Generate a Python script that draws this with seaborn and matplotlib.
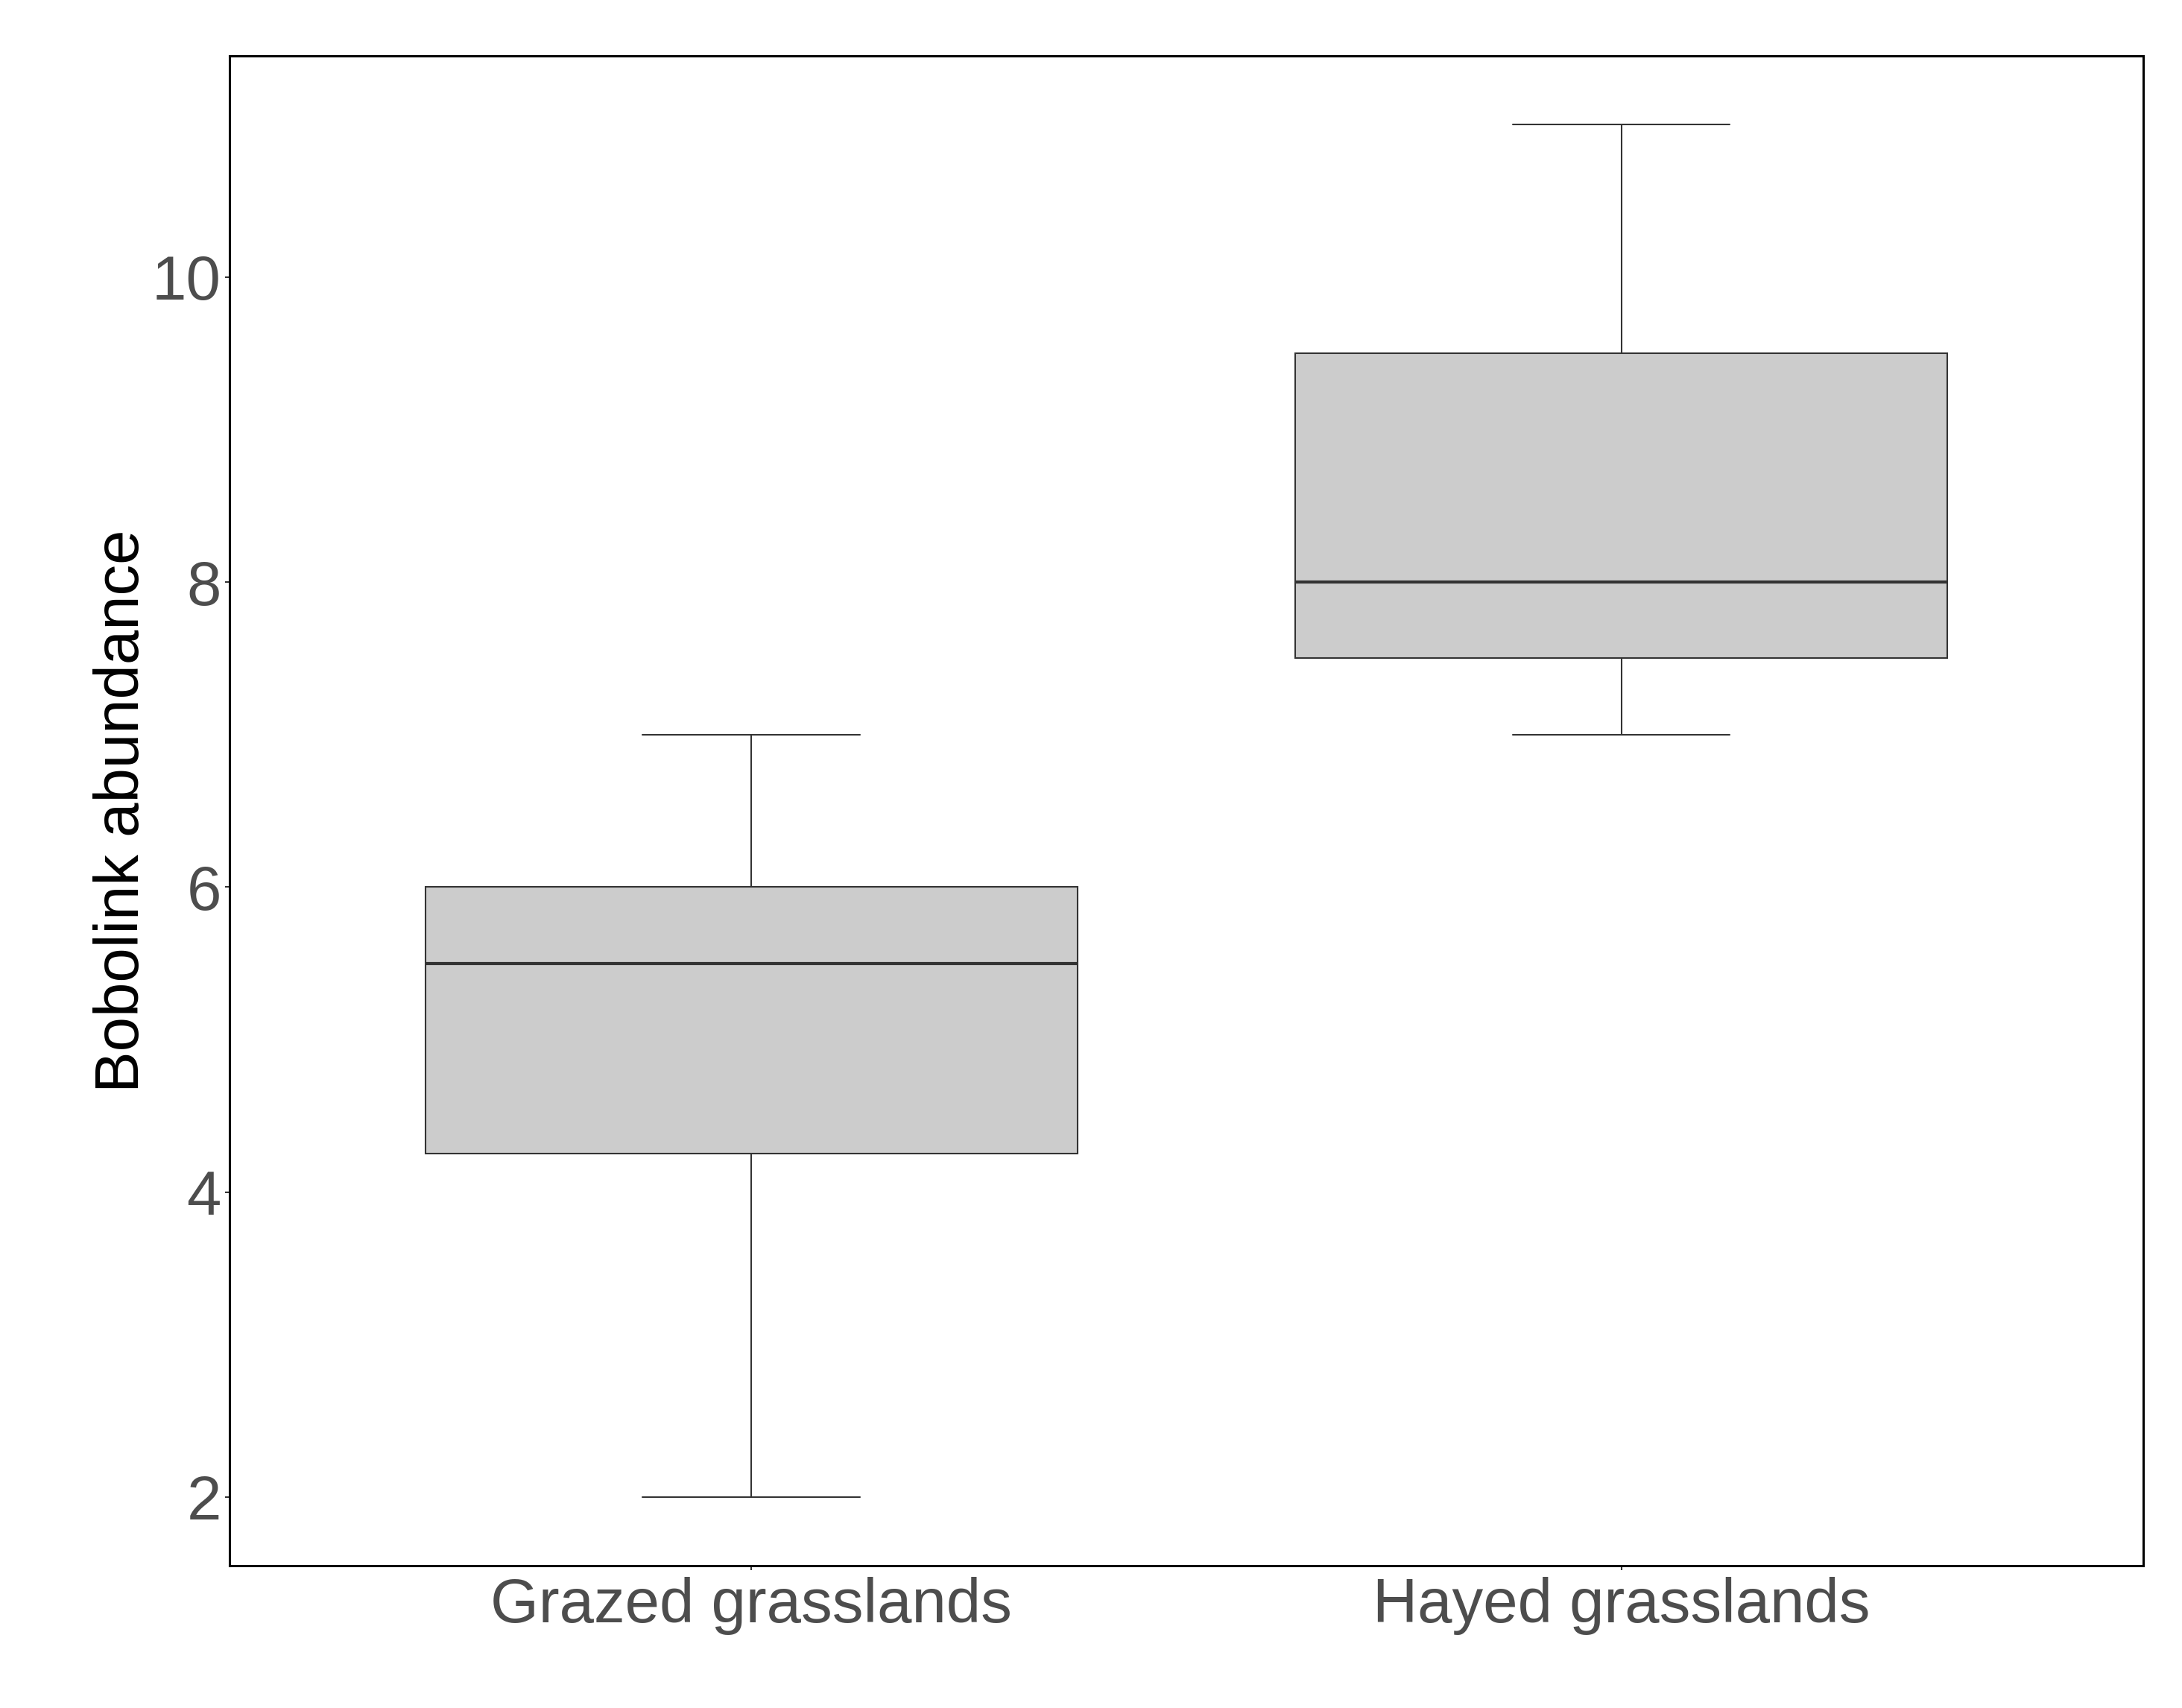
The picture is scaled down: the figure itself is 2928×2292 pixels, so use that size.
# Bobolink abundance by grassland type (ggplot-like boxplot)
import pandas as pd
import matplotlib
matplotlib.use("Agg")
import matplotlib.pyplot as plt
import seaborn as sns

# Data (counts read from the box summaries)
grazed = [2, 4, 5, 6, 6, 7]
hayed = [7, 7, 8, 8, 9, 10, 11]
categories = ["Grazed grasslands", "Hayed grasslands"]
y_ticks = [2, 4, 6, 8, 10]

df = pd.DataFrame({
    "habitat": [categories[0]] * len(grazed) + [categories[1]] * len(hayed),
    "abundance": grazed + hayed,
})

sns.set_style("white")
plt.rcParams['font.family'] = ['Liberation Sans', 'DejaVu Sans']

fig = plt.figure(figsize=(29.28, 22.92), dpi=100)
ax = fig.add_axes([0.1052, 0.0833, 0.877, 0.884])

sns.boxplot(
    data=df, x="habitat", y="abundance", order=categories,
    color="#CCCCCC", saturation=1, width=0.75, whis=1.5,
    linecolor="#333333", linewidth=1.5, capwidths=0.25,
    medianprops={"color": "#333333", "linewidth": 3},
    ax=ax,
)

ax.set_xlim(-0.6, 1.6)
ax.set_ylim(1.55, 11.45)
ax.set_yticks(y_ticks)
ax.set_xlabel("")
ax.set_ylabel("Bobolink abundance", fontsize=60, color="black", labelpad=1)

ax.tick_params(axis="both", labelsize=60, labelcolor="#4D4D4D", colors="#333333",
               length=4, width=1.5, pad=4, left=True, bottom=True)
ax.tick_params(axis="x", pad=7)
for sp in ax.spines.values():
    sp.set_visible(True)
    sp.set_color("black")
    sp.set_linewidth(2.2)

fig.savefig("out.png", dpi=100, facecolor="white")
